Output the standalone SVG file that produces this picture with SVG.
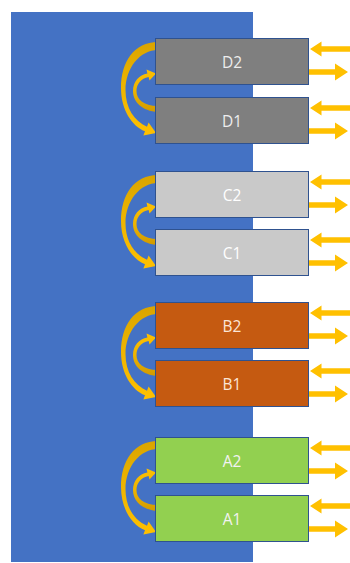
<svg xmlns="http://www.w3.org/2000/svg" width="350" height="563" viewBox="0 0 350 563">
  <defs>
    <style>
      .box { stroke: #2F528F; stroke-width: 1; }
      .lbl { font-family: "Open Sans", "Liberation Sans", sans-serif; font-size: 15.5px; text-anchor: middle; dominant-baseline: central; }
      .arr { fill: #FFC000; }
    </style>
    <linearGradient id="gBig" x1="0" y1="0" x2="0" y2="1">
      <stop offset="0" stop-color="#D9A400"/>
      <stop offset="0.45" stop-color="#EDB400"/>
      <stop offset="1" stop-color="#FFC000"/>
    </linearGradient>
    <linearGradient id="gSmall" x1="0" y1="1" x2="0" y2="0">
      <stop offset="0" stop-color="#D19A00"/>
      <stop offset="0.5" stop-color="#EDB400"/>
      <stop offset="1" stop-color="#FFC000"/>
    </linearGradient>
    <g id="curves">
      <path fill="url(#gBig)" d="M158,4 C134,4 121,24 121,50 C121,72 132,88 145,93.3 L143.4,97.5 L156,95 L148.6,84.5 L147,88.7 C134,83 125.5,70 125.5,52 C125.5,30 140,12 158,12 Z"/>
      <path fill="url(#gSmall)" d="M158,74 C142,73 133,64 133,53 C133,44 139,37 147.4,35.6 L146.5,31.5 L156,35.5 L149.5,42.5 L148.6,39 C141,40.5 136.5,46 136.5,53 C136.5,61 143,68 158,68 Z"/>
    </g>
    <g id="io">
      <polygon class="arr" points="310,11 321.5,3.5 321.5,8.2 350,8.2 350,13.8 321.5,13.8 321.5,18.5"/>
      <polygon class="arr" points="348,34 335,25.5 335,31.2 309,31.2 309,36.8 335,36.8 335,42.5"/>
    </g>
  </defs>

  <rect id="background" x="11" y="12" width="242" height="550" fill="#4472C4"/>

  <g id="connectors">
    <use href="#curves" transform="translate(0,38)"/>
    <use href="#curves" transform="translate(0,171)"/>
    <use href="#curves" transform="translate(0,302)"/>
    <use href="#curves" transform="translate(0,437)"/>
    <use href="#io" transform="translate(0,38)"/>
    <use href="#io" transform="translate(0,97)"/>
    <use href="#io" transform="translate(0,171)"/>
    <use href="#io" transform="translate(0,229)"/>
    <use href="#io" transform="translate(0,302)"/>
    <use href="#io" transform="translate(0,360)"/>
    <use href="#io" transform="translate(0,437)"/>
    <use href="#io" transform="translate(0,495)"/>
  </g>

  <g id="D2"><rect class="box" x="155.5" y="38.5" width="153" height="46" fill="#7F7F7F"/><text class="lbl" x="232" y="61.5" fill="#EDEDED">D2</text></g>
  <g id="D1"><rect class="box" x="155.5" y="97.5" width="153" height="46" fill="#7F7F7F"/><text class="lbl" x="232" y="120.5" fill="#EDEDED">D1</text></g>
  <g id="C2"><rect class="box" x="155.5" y="171.5" width="153" height="46" fill="#C9C9C9"/><text class="lbl" x="232" y="194.5" fill="#FFFFFF">C2</text></g>
  <g id="C1"><rect class="box" x="155.5" y="229.5" width="153" height="46" fill="#C9C9C9"/><text class="lbl" x="232" y="252.5" fill="#FFFFFF">C1</text></g>
  <g id="B2"><rect class="box" x="155.5" y="302.5" width="153" height="46" fill="#C55A11"/><text class="lbl" x="232" y="325.5" fill="#FBE5D6">B2</text></g>
  <g id="B1"><rect class="box" x="155.5" y="360.5" width="153" height="46" fill="#C55A11"/><text class="lbl" x="232" y="383.5" fill="#FBE5D6">B1</text></g>
  <g id="A2"><rect class="box" x="155.5" y="437.5" width="153" height="46" fill="#92D050"/><text class="lbl" x="232" y="460.5" fill="#F2F2F2">A2</text></g>
  <g id="A1"><rect class="box" x="155.5" y="495.5" width="153" height="46" fill="#92D050"/><text class="lbl" x="232" y="518.5" fill="#F2F2F2">A1</text></g>
</svg>
